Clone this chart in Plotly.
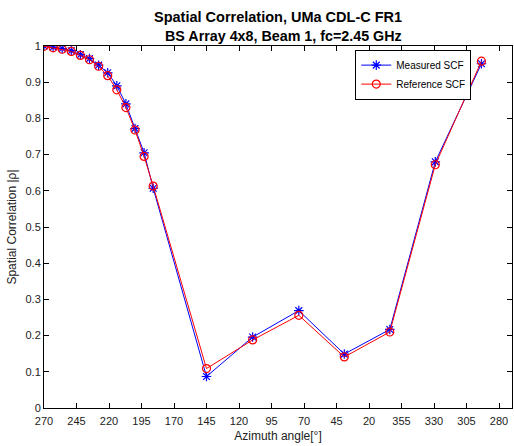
import plotly.graph_objects as go

# Azimuth sample positions (degrees, unwrapped so the axis runs 270 -> -90)
azimuth = [270, 263, 256, 249, 242, 235, 228, 221, 214, 207, 200, 193, 186,
           145, 109.5, 74, 39, 4, -31, -66.5]

measured_scf = [1.0, 0.997, 0.993, 0.987, 0.976, 0.965, 0.947, 0.926, 0.890,
                0.840, 0.772, 0.705, 0.607,
                0.087, 0.196, 0.269, 0.149, 0.217, 0.680, 0.951]

reference_scf = [0.999, 0.995, 0.991, 0.985, 0.974, 0.962, 0.944, 0.918, 0.879,
                 0.830, 0.768, 0.695, 0.613,
                 0.109, 0.188, 0.256, 0.141, 0.210, 0.672, 0.958]

x_tick_vals = [270, 245, 220, 195, 170, 145, 120, 95, 70, 45, 20, -5, -30, -55, -80]
x_tick_text = ["270", "245", "220", "195", "170", "145", "120", "95", "70", "45",
               "20", "355", "330", "305", "280"]
y_tick_vals = [0, 0.1, 0.2, 0.3, 0.4, 0.5, 0.6, 0.7, 0.8, 0.9, 1.0]
y_tick_text = ["0", "0.1", "0.2", "0.3", "0.4", "0.5", "0.6", "0.7", "0.8", "0.9", "1"]

title_lines = ["Spatial Correlation, UMa CDL-C FR1",
               "BS Array 4x8, Beam 1, fc=2.45 GHz"]

FONT = "Liberation Sans, Arial, sans-serif"

fig = go.Figure()
fig.add_trace(go.Scatter(
    x=azimuth, y=measured_scf, mode="lines+markers", name="Measured SCF",
    line=dict(color="#0000ff", width=1),
    marker=dict(symbol="asterisk-open", size=8, color="#0000ff",
                line=dict(color="#0000ff", width=1.2)),
))
fig.add_trace(go.Scatter(
    x=azimuth, y=reference_scf, mode="lines+markers", name="Reference SCF",
    line=dict(color="#ff0000", width=1),
    marker=dict(symbol="circle-open", size=8, color="#ff0000",
                line=dict(color="#ff0000", width=1.2)),
))

axis_common = dict(
    showgrid=False, zeroline=False, showline=True, linecolor="black",
    linewidth=1, mirror="ticks", ticks="inside", ticklen=5,
    tickcolor="black", tickfont=dict(family=FONT, size=11, color="#222"),
)

# Two-line bold title placed above the plot box
title_annotations = [
    dict(text=f"<b>{title_lines[0]}</b>", xref="paper", yref="paper",
         x=0.499, y=1.080, xanchor="center", yanchor="middle", showarrow=False,
         font=dict(family=FONT, size=14.5, color="black")),
    dict(text=f"<b>{title_lines[1]}</b>", xref="paper", yref="paper",
         x=0.511, y=1.027, xanchor="center", yanchor="middle", showarrow=False,
         font=dict(family=FONT, size=14.3, color="black")),
]

fig.update_layout(
    width=514, height=446,
    margin=dict(l=44, r=2, t=46, b=38),
    paper_bgcolor="white", plot_bgcolor="white",
    font=dict(family=FONT, color="black"),
    annotations=title_annotations,
    xaxis=dict(
        range=[270, -90], tickvals=x_tick_vals, ticktext=x_tick_text,
        ticklabelstandoff=3,
        title=dict(text="Azimuth angle[°]", font=dict(family=FONT, size=12, color="#222"),
                   standoff=5),
        **axis_common,
    ),
    yaxis=dict(
        range=[0, 1], tickvals=y_tick_vals, ticktext=y_tick_text,
        title=dict(text="Spatial Correlation |ρ|", font=dict(family=FONT, size=12, color="#222"),
                   standoff=6),
        **axis_common,
    ),
    showlegend=True,
    legend=dict(
        x=0.913, y=0.99, xanchor="right", yanchor="top",
        bgcolor="white", bordercolor="black", borderwidth=1,
        font=dict(family=FONT, size=10, color="black"),
        tracegroupgap=0, itemwidth=30,
    ),
)

fig.write_html("out.html")
